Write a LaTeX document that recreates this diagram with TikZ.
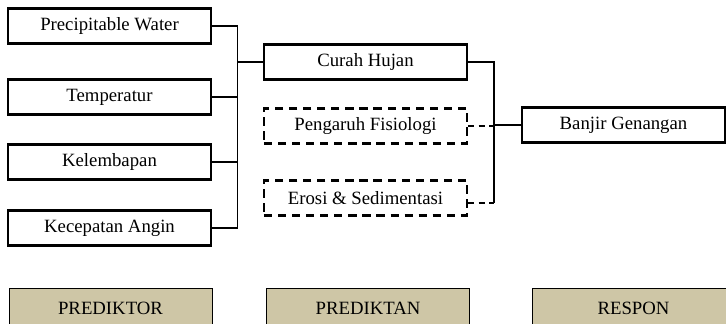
\documentclass[tikz,border=0pt]{standalone}
\usepackage{fontspec}
\setmainfont{Liberation Serif}
\usepackage{xcolor}
\usetikzlibrary{positioning}

\definecolor{khaki}{HTML}{CEC6A6}

\tikzset{
  varbox/.style={draw, line width=2pt, minimum width=6.09cm, minimum height=1.05cm,
    inner sep=0pt, font=\fontsize{16}{18}\selectfont},
  dashbox/.style={varbox, dash pattern=on 7pt off 5pt},
  groupbox/.style={draw, line width=0.8pt, fill=khaki, minimum width=6.09cm,
    minimum height=1.2cm, inner sep=0pt, font=\fontsize{16}{18}\selectfont},
  link/.style={line width=1.2pt},
  dashlink/.style={line width=1.2pt, dash pattern=on 5pt off 4pt}
}

\begin{document}
\begin{tikzpicture}[x=0.03cm, y=-0.03cm]
   			\clip (0,0) rectangle (726,323);
   			\fill[white] (0,0) rectangle (726,323);
   			
   			% prediktor
   			\foreach \y/\name/\label in {
   				26/pw/Precipitable Water,
   				97/temp/Temperatur,
   				162/lembab/Kelembapan,
   				228/angin/Kecepatan Angin
   			}{
   				\node[varbox] (\name) at (109.5,\y) {\label};
   			}
   			
   			% prediktan
   			\node[varbox] (hujan) at (365.5,62) {Curah Hujan};
   			\node[dashbox] (fisio) at (365.5,126) {Pengaruh Fisiologi};
   			\node[dashbox] (erosi) at (365.5,198) {Erosi \& Sedimentasi};
   			
   			% respon
   			\node[varbox] (banjir) at (623.5,125) {Banjir Genangan};
   			
   			\coordinate (L) at (237.5,62);
   			\coordinate (R) at (494,62);
   			\coordinate (E) at (494,203);
   			
   			\draw[link] (pw.east) -| (L) -- (hujan.west);
   			\draw[link] (temp.east) -| (L);
   			\draw[link] (lembab.east) -| (L);
   			\draw[link] (angin.east) -| (L);
   			
   			\draw[link] (hujan.east) -| (R) |- (banjir.west);
   			\draw[link] (R) -- (E);
   			\draw[dashlink] (fisio.east) -- (R |- fisio.east);
   			\draw[dashlink] (erosi.east |- E) -- (E);
   			
   			% kelompok
   			\node[groupbox] (prediktor) at (110.5,308) {PREDIKTOR};
   			\node[groupbox] (prediktan) at (368,308) {PREDIKTAN};
   			\node[groupbox] (respon) at (633.5,308) {RESPON};
   		\end{tikzpicture}
\end{document}
